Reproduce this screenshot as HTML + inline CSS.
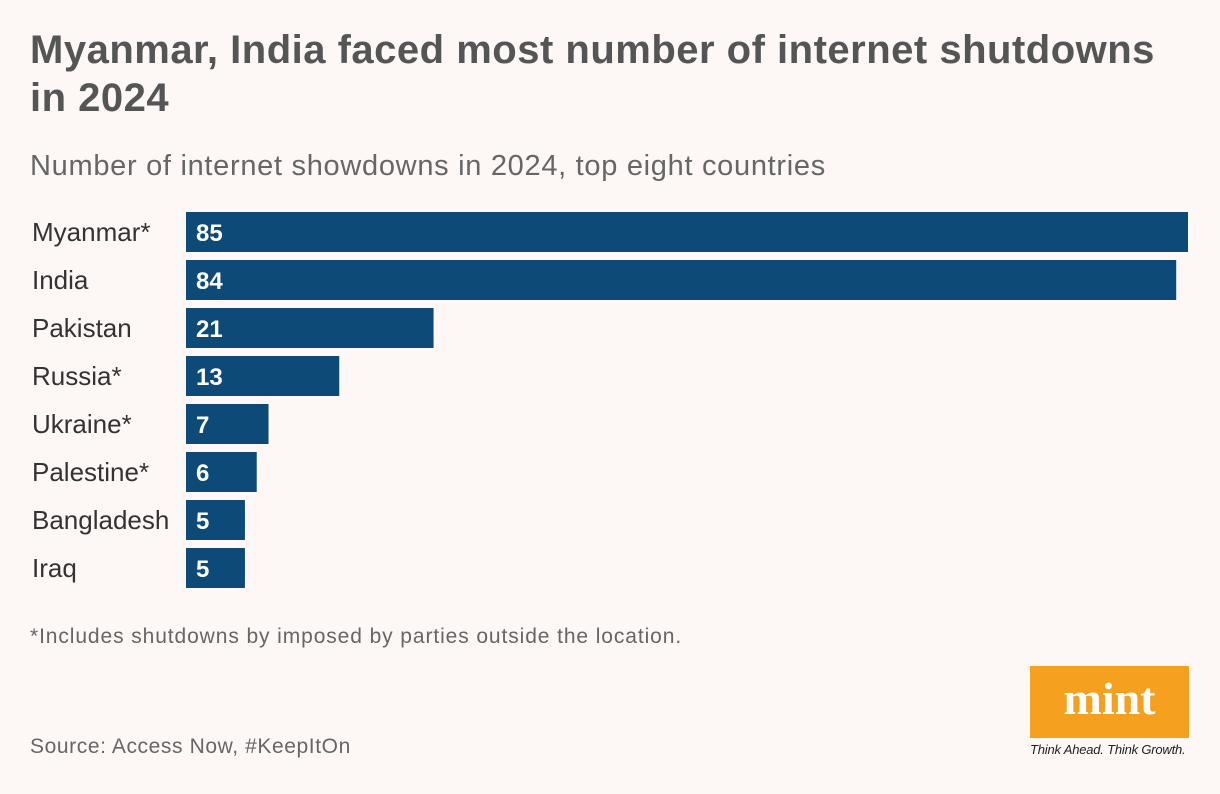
<!DOCTYPE html>
<html><head><meta charset="utf-8"><style>
body{margin:0;width:1220px;height:794px;background:#fdf7f6;font-family:"Liberation Sans",sans-serif;position:relative;overflow:hidden;color:#333}
.abs{position:absolute;white-space:nowrap}
</style></head><body>
<div class="abs" style="left:30px;top:26px;font-size:40px;font-weight:bold;color:#555;line-height:48px;letter-spacing:0.5px">Myanmar, India faced most number of internet shutdowns<br>in 2024</div>
<div class="abs" style="left:30px;top:150px;font-size:29px;color:#666;letter-spacing:0.7px">Number of internet showdowns in 2024, top eight countries</div>
<svg id="chart" class="abs" style="left:0;top:0" width="1220" height="620"></svg>
<div class="abs" style="left:30px;top:625px;font-size:21px;color:#666;letter-spacing:0.9px">*Includes shutdowns by imposed by parties outside the location.</div>
<div class="abs" style="left:30px;top:735px;font-size:21px;color:#666;letter-spacing:0.6px">Source: Access Now, #KeepItOn</div>
<div class="abs" style="left:1030px;top:666px;width:159px;height:72px;background:#f6a01f;color:#fff;font-family:'Liberation Serif',serif;font-weight:bold;font-size:46px;text-align:center;line-height:66px">mint</div>
<div class="abs" style="left:1030px;top:742px;font-size:13px;font-style:italic;color:#222;letter-spacing:-0.2px">Think Ahead. Think Growth.</div>
<script>
const categories=["Myanmar*","India","Pakistan","Russia*","Ukraine*","Palestine*","Bangladesh","Iraq"];
const values=[85,84,21,13,7,6,5,5];
const svg=document.getElementById('chart');
const NS='http://www.w3.org/2000/svg';
const x0=186,xMax=85,xW=1002;
const xs=v=>v/xMax*xW;
const ys=i=>212+i*48;
categories.forEach((c,i)=>{
  const r=document.createElementNS(NS,'rect');
  r.setAttribute('x',x0);r.setAttribute('y',ys(i));r.setAttribute('width',xs(values[i]));r.setAttribute('height',40);r.setAttribute('fill','#0d4a78');
  
  
  svg.appendChild(r);
  const l=document.createElementNS(NS,'text');
  l.setAttribute('x',32);l.setAttribute('y',ys(i)+29);l.setAttribute('font-size','26');l.setAttribute('fill','#333');l.textContent=c;
  
  
  svg.appendChild(l);
  const t=document.createElementNS(NS,'text');
  t.setAttribute('x',x0+10);t.setAttribute('y',ys(i)+29);t.setAttribute('font-size','24');t.setAttribute('font-weight','bold');t.setAttribute('fill','#fff');t.textContent=values[i];
  
  
  svg.appendChild(t);
});
</script>
</body></html>
